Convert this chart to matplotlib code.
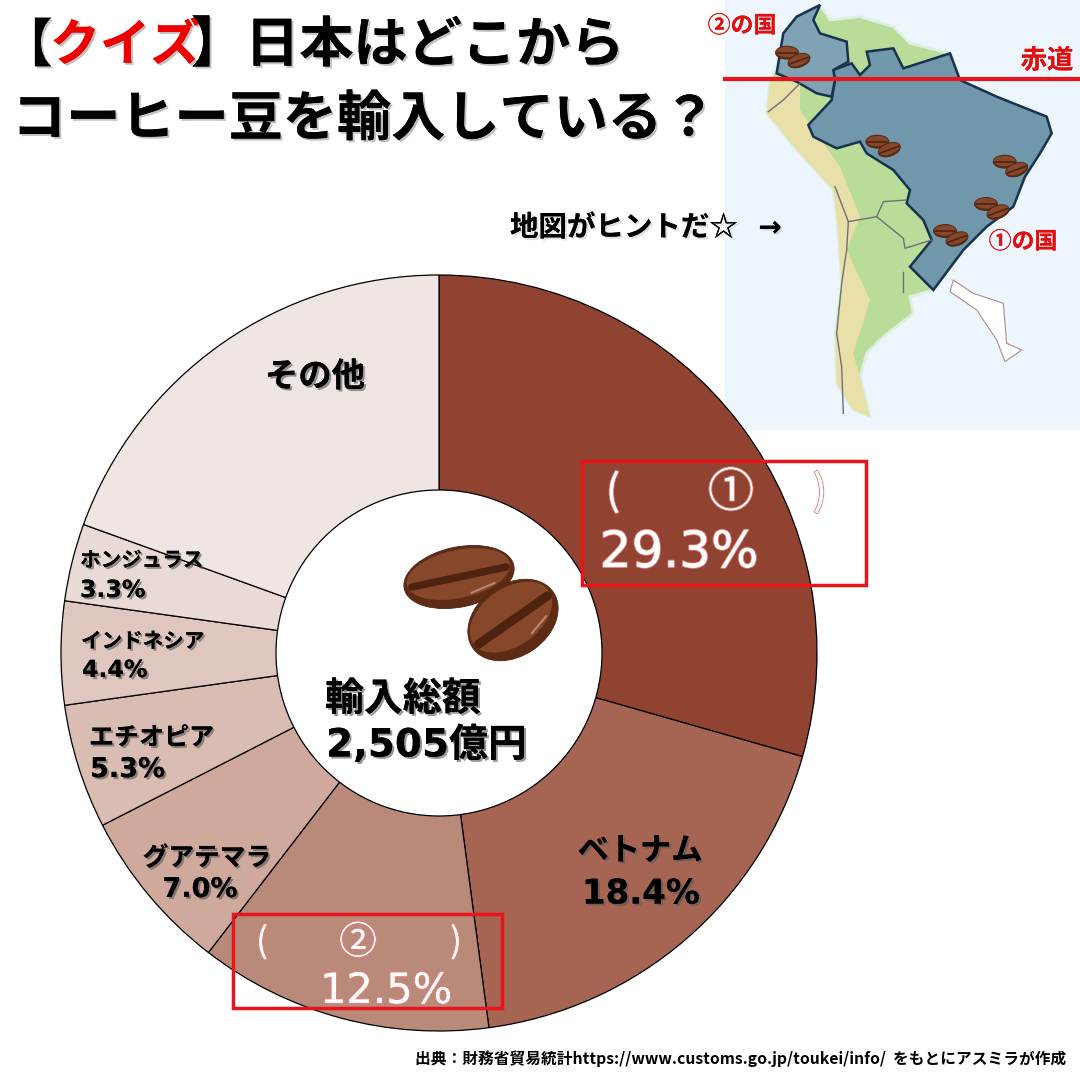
import matplotlib
matplotlib.use("Agg")
import matplotlib.pyplot as plt
import matplotlib.patheffects as pe
from matplotlib.patches import Circle, Ellipse, Polygon, Rectangle
import numpy as np

plt.rcParams['font.family'] = ['Noto Sans CJK JP', 'DejaVu Sans']
NUM_FONT = ['DejaVu Sans', 'Noto Sans CJK JP']

countries = ['①', 'ベトナム', '②', 'グアテマラ', 'エチオピア', 'インドネシア', 'ホンジュラス', 'その他']
shares = [29.3, 18.4, 12.5, 7.0, 5.3, 4.4, 3.3, 19.4]
slice_colors = ['#8f4330', '#a56552', '#b98a7a', '#cfa99c', '#d9bcb2', '#dfc6be', '#e9dad5', '#efe5e2']

continent = [(300,15),(330,60),(420,50),(520,80),(570,130),(690,160),(720,240),(830,290),(980,350),(995,400),
             (960,460),(915,530),(880,620),(800,680),(730,750),(640,870),(570,890),(580,940),(490,1010),
             (440,1060),(420,1130),(450,1250),(400,1230),(350,1150),(345,1000),(365,850),(350,650),(340,570),
             (230,450),(140,340),(150,240),(170,200),(190,100),(230,50)]
andes = [(150,240),(240,250),(240,330),(360,500),(420,650),(380,750),(450,900),(400,1060),(420,1130),(450,1250),
         (400,1230),(350,1150),(345,1000),(365,850),(350,650),(340,570),(230,450),(140,340)]
brazil = [(440,155),(520,145),(550,205),(690,160),(720,240),(830,290),(980,350),(995,400),(960,460),(915,530),
          (880,620),(800,680),(730,750),(640,870),(570,800),(635,720),(610,660),(560,610),(570,570),(520,510),
          (440,460),(420,425),(350,445),(280,410),(265,375),(335,300),(345,240),(340,210),(395,190),(420,225),(450,195)]
colombia = [(300,15),(280,60),(300,100),(380,125),(385,185),(340,210),(345,240),(335,290),(290,280),(230,245),
            (170,220),(190,100),(230,50)]
islands = [(700,840),(760,880),(850,910),(860,1030),(905,1050),(855,1085),(830,1020),(770,930),(690,875)]
borders = [[(345,560),(385,665),(380,750),(365,850),(350,1000),(365,1100),(370,1240)],
           [(385,665),(470,650),(550,715),(555,745),(635,720)],
           [(470,650),(490,605),(560,600)],
           [(550,815),(550,875)],
           [(145,335),(190,300),(240,250)]]
map_beans = [(219,170),(490,437),(872,497),(816,624),(693,705)]


def map_pt(pts):
    return [(720 + x / 3, y / 3) for x, y in pts]


def bean(ax, cx, cy, w, h, angle, z=6, shine=False):
    ax.add_patch(Ellipse((cx, cy), w, h, angle=angle, fc='#5e2c14', ec='#4e2410', lw=0.6, zorder=z))
    t = np.radians(angle)
    ux, uy = np.cos(t), np.sin(t)
    nx, ny = -uy, ux
    # lighter top of the bean
    ax.add_patch(Ellipse((cx - nx * h * 0.05, cy - ny * h * 0.05), w * 0.94, h * 0.8, angle=angle,
                         fc='#87472a', ec='none', zorder=z))
    ax.plot([cx - ux * w * 0.43, cx + ux * w * 0.43], [cy - uy * w * 0.43, cy + uy * w * 0.43],
            color='#4e2410', lw=h * 0.09, solid_capstyle='round', zorder=z)
    if shine:
        ax.plot([cx + ux * w * 0.08 + nx * h * 0.3, cx + ux * w * 0.3 + nx * h * 0.22],
                [cy + uy * w * 0.08 + ny * h * 0.3, cy + uy * w * 0.3 + ny * h * 0.22],
                color='#b98a70', lw=1.4, zorder=z)


def label(ax, x, y, s, size, color='black', shadow='#555555', ha='left', weight='bold', **kw):
    t = ax.text(x, y, s, fontsize=size, color=color, ha=ha, va='center', fontweight=weight, zorder=10, **kw)
    effects = [pe.withSimplePatchShadow(offset=(1.5, -1.5), shadow_rgbFace=shadow, alpha=0.6), pe.Normal()]
    if color == 'white':
        effects = [pe.withStroke(linewidth=1.5, foreground='#e88080')] + effects[1:]
    t.set_path_effects(effects)
    return t


fig = plt.figure(figsize=(10.8, 10.8), dpi=100, facecolor='white')

# overlay in picture pixels
bg = fig.add_axes([0, 0, 1, 1], zorder=1)
bg.set_xlim(0, 1080)
bg.set_ylim(1080, 0)
bg.axis('off')

# pie
cx, cy, r = 439, 653, 378
ax = fig.add_axes([(cx - r) / 1080, 1 - (cy + r) / 1080, 2 * r / 1080, 2 * r / 1080], zorder=2)
ax.pie(shares, colors=slice_colors, startangle=90, counterclock=False, radius=1,
       wedgeprops={'edgecolor': 'black', 'linewidth': 0.9})
ax.set_xlim(-1, 1)
ax.set_ylim(-1, 1)
ax.patch.set_alpha(0)
ax.add_patch(Circle((0, 0), 163 / r, fc='white', ec='black', lw=0.9, zorder=5))

top = fig.add_axes([0, 0, 1, 1], zorder=3)
top.set_xlim(0, 1080)
top.set_ylim(1080, 0)
top.axis('off')
top.patch.set_alpha(0)

# map corner
bg.add_patch(Rectangle((725, 0), 355, 430, fc='#edf6fc', ec='none'))
bg.add_patch(Polygon(map_pt(continent), fc='#b9dc98', ec='#dcefe0', lw=2))
bg.add_patch(Polygon(map_pt(andes), fc='#e8e0a8', ec='none'))
for line in borders:
    xs, ys = zip(*map_pt(line))
    bg.plot(xs, ys, color='#6f6f78', lw=1)
bg.add_patch(Polygon(map_pt(islands), fc='white', ec='#b08a90', lw=0.8))
bg.add_patch(Polygon(map_pt(brazil), fc='#7097aa', ec='#16324f', lw=1.8))
bg.add_patch(Polygon(map_pt(colombia), fc='#7fa3b5', ec='#16324f', lw=1.8))
for mx, my in map_pt(map_beans):
    bean(bg, mx - 6, my - 4, 23, 13, 0)
    bean(bg, mx + 6, my + 4, 23, 13, -20)
bg.plot([725, 1080], [79, 79], color='#e8141c', lw=3, zorder=7)
label(bg, 1047, 61, '赤道', 19, color='#e01010', shadow='white', ha='center')
label(bg, 742, 26, '②の国', 16.5, color='#e01010', shadow='white', ha='center')
label(bg, 1023, 242, '①の国', 16.5, color='#e01010', shadow='white', ha='center')

# title
label(bg, 1, 46, '【', 37, shadow='#999999')
label(bg, 50, 46, 'クイズ', 36, color='#ee0000', shadow='#999999')
label(bg, 191, 46, '】日本はどこから', 39, shadow='#999999')
label(bg, 12, 120, 'コーヒー豆を輸入している？', 39, shadow='#999999')
label(bg, 510, 228, '地図がヒントだ☆', 20.5, shadow='#cccccc')
label(bg, 770, 228, '→', 20, shadow='#cccccc', ha='center', family=NUM_FONT)

# slice labels
label(top, 315, 377, 'その他', 24, ha='center')
label(top, 640, 851, 'ベトナム', 22.5, ha='center')
label(top, 641, 894, '18.4%', 24.5, ha='center', family=NUM_FONT)
label(top, 207, 858, 'グアテマラ', 18.5, ha='center')
label(top, 200, 890, '7.0%', 19.5, ha='center', family=NUM_FONT)
label(top, 89, 738, 'エチオピア', 18)
label(top, 90, 770, '5.3%', 19.5, family=NUM_FONT)
label(top, 81, 641, 'インドネシア', 14.8)
label(top, 82, 670, '4.4%', 17, family=NUM_FONT)
label(top, 80, 560, 'ホンジュラス', 14.8)
label(top, 80, 590, '3.3%', 17, family=NUM_FONT)

# hidden answers
label(top, 613, 493, '(', 30, color='white', ha='center', weight='normal')
label(top, 731, 493, '①', 33, color='white', ha='center', weight='normal')
label(top, 820, 493, ')', 30, color='white', ha='center', weight='normal')
label(top, 679, 553, '29.3%', 36, color='white', ha='center', weight='normal', family=NUM_FONT)
label(top, 262, 943, '(', 25, color='white', ha='center', weight='normal')
label(top, 358, 943, '②', 27, color='white', ha='center', weight='normal')
label(top, 456, 943, ')', 25, color='white', ha='center', weight='normal')
label(top, 386, 991, '12.5%', 30, color='white', ha='center', weight='normal', family=NUM_FONT)
top.add_patch(Rectangle((582, 461), 284, 124, fc='none', ec='#e8141c', lw=2.5, zorder=11))
top.add_patch(Rectangle((233, 914), 269, 94, fc='none', ec='#e8141c', lw=2.5, zorder=11))

# centre
bean(top, 459, 577, 112, 60, -12, z=8, shine=True)
bean(top, 513, 620, 98, 72, -35, z=8, shine=True)
label(top, 325, 699, '輸入総額', 28)
label(top, 326, 745, '2,505億円', 28, family=NUM_FONT)

top.text(1066, 1059, '出典：財務省貿易統計https://www.customs.go.jp/toukei/info/  をもとにアスミラが作成',
         fontsize=11.3, fontweight='bold', ha='right', va='center', zorder=10)

fig.savefig('out.png', dpi=100)
